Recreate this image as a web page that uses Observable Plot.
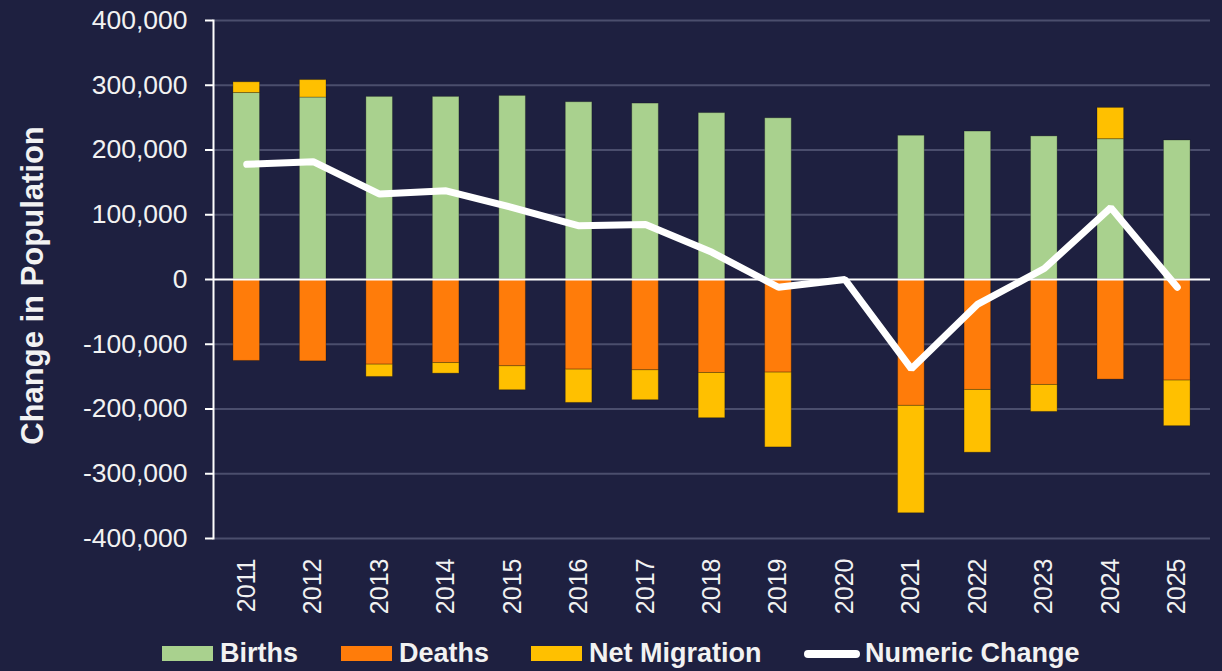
<!DOCTYPE html>
<html>
<head>
<meta charset="utf-8">
<script src="https://cdn.jsdelivr.net/npm/d3@7"></script>
<script src="https://cdn.jsdelivr.net/npm/@observablehq/plot@0.6"></script>
<style>
  html, body { margin: 0; padding: 0; background: #1e2040; }
  #wrap { width: 1222px; height: 671px; background: #1e2040; position: relative; overflow: hidden; }
  #legend { position: relative; width: 1222px; height: 41px; font-family: "Liberation Sans", Arial, sans-serif; font-weight: bold; font-size: 27px; color: #f2f2f2; }
  .sw { position: absolute; top: 16px; width: 51px; height: 15px; }
  .ln { position: absolute; top: 20px; width: 56px; height: 8px; border-radius: 4px; background: #fff; }
  .lt { position: absolute; top: 8px; line-height: 30px; white-space: nowrap; }
</style>
</head>
<body>
<div id="wrap"><div id="chart"></div><div id="legend"></div></div>
<script>
const years = ["2011","2012","2013","2014","2015","2016","2017","2018","2019","2020","2021","2022","2023","2024","2025"];
const births = [288000, 281000, 282000, 282000, 283500, 273800, 271700, 257000, 249000, null, 222000, 228500, 221000, 216700, 214700];
const deaths = [-125800, -126400, -131500, -129000, -134000, -139200, -140200, -144400, -143800, null, -195200, -170600, -162900, -154600, -156100];
const migration = [16600, 27000, -19000, -16400, -37000, -51400, -46200, -69800, -115500, null, -165800, -96900, -41600, 48300, -70400];
const numericChange = [178000, 182000, 132000, 137000, 111000, 83000, 85000, 42000, -12000, 0, -138000, -38000, 17000, 111000, -12000];
const categories = ["Births", "Deaths", "Net Migration"];
const colors = ["#a9d18e", "#ff7c0a", "#ffc000"];
const lineLabel = "Numeric Change";
const yTicks = [-400000, -300000, -200000, -100000, 0, 100000, 200000, 300000, 400000];
const yTitle = "Change in Population";

const series = [births, deaths, migration];
const rows = years.flatMap((yr, i) => categories.map((c, k) => ({year: yr, cat: c, value: series[k][i]})))
  .filter(d => d.value != null);
const lineRows = years.map((yr, i) => ({year: yr, value: numericChange[i]}));

const chart = Plot.plot({
  width: 1222,
  height: 630,
  marginLeft: 213,
  marginRight: 12,
  marginTop: 20,
  marginBottom: 92,
  style: {background: "#1e2040", color: "#f2f2f2", fontFamily: "'Liberation Sans', Arial, sans-serif"},
  x: {type: "band", domain: years, paddingInner: 0.6, paddingOuter: 0.3, round: false, label: null},
  y: {domain: [-400000, 400000], label: null},
  color: {domain: categories, range: colors},
  marks: [
    Plot.ruleY(yTicks.filter(d => d !== 0), {stroke: "#4b4e6d", strokeWidth: 2}),
    Plot.barY(rows, {x: "year", y: "value", fill: "cat", stroke: "#000", strokeOpacity: 0.25, strokeWidth: 1}),
    Plot.ruleY([0], {stroke: "#ffffff", strokeWidth: 2}),
    Plot.frame({anchor: "left", stroke: "#ffffff", strokeWidth: 2}),
    Plot.axisY({ticks: yTicks, tickSize: 8, tickPadding: 18, tickFormat: d => d.toLocaleString("en-US"), fontSize: 26.5, stroke: "#ffffff", strokeWidth: 2, label: null}),
    Plot.axisX({tickSize: 0, tickRotate: -90, tickPadding: 20, fontSize: 25, label: null}),
    Plot.line(lineRows, {x: "year", y: "value", stroke: "#ffffff", strokeWidth: 7, strokeLinecap: "round", strokeLinejoin: "miter"}),
    Plot.text([yTitle], {frameAnchor: "left", dx: -180, dy: 6, rotate: -90, textAnchor: "middle", fontSize: 31, fontWeight: "bold", fill: "#f2f2f2"})
  ]
});
document.getElementById("chart").appendChild(chart);

const legend = document.getElementById("legend");
const items = [
  {label: categories[0], color: colors[0], sw: 162, tx: 220},
  {label: categories[1], color: colors[1], sw: 341, tx: 399},
  {label: categories[2], color: colors[2], sw: 531, tx: 589},
  {label: lineLabel, color: null, sw: 804, tx: 865}
];
for (const it of items) {
  const s = document.createElement("div");
  if (it.color) { s.className = "sw"; s.style.background = it.color; }
  else { s.className = "ln"; }
  s.style.left = it.sw + "px";
  legend.appendChild(s);
  const t = document.createElement("div");
  t.className = "lt";
  t.style.left = it.tx + "px";
  t.textContent = it.label;
  legend.appendChild(t);
}
</script>
</body>
</html>
